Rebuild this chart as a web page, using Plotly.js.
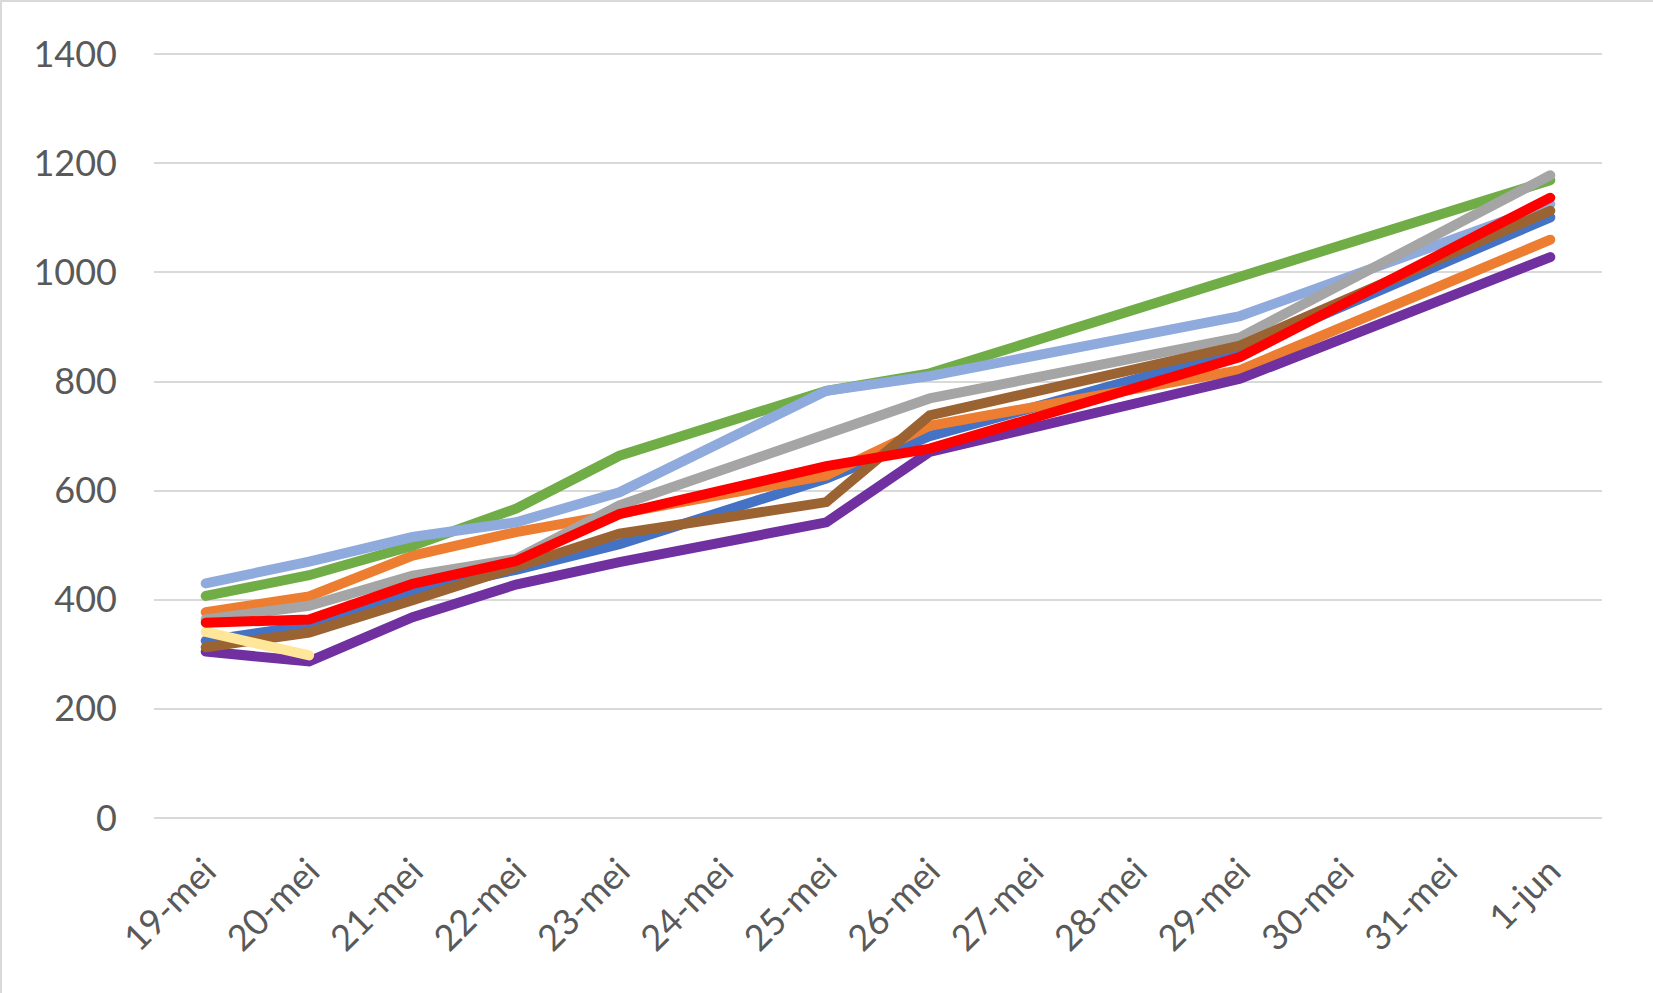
<!DOCTYPE html>
<html>
<head>
<meta charset="utf-8">
<script src="https://cdn.plot.ly/plotly-3.0.1.min.js"></script>
<style>
  html, body { margin: 0; padding: 0; background: #fff; }
  #chart { width: 1653px; height: 993px; box-sizing: border-box; border: 2px solid #d9d9d9; }
  #chart .js-line { stroke-linecap: round; }
</style>
</head>
<body>
<div id="chart"></div>
<script>
// datums op de x-as (ontbrekende dagen worden met een rechte lijn overbrugd)
const dagen = ['19-mei', '20-mei', '21-mei', '22-mei', '23-mei', '24-mei', '25-mei',
               '26-mei', '27-mei', '28-mei', '29-mei', '30-mei', '31-mei', '1-jun'];

const blauw      = [325, 353, 414, 455, 502, null, 622, 700, null, null, 857, null, null, 1101];
const oranje     = [377, 406, 481, 524, 558, null, 628, 719, null, null, 821, null, null, 1060];
const groen      = [407, 445, 499, 567, 664, null, 783, 815, null, null, 991, null, null, 1169];
const lichtblauw = [430, 470, 515, 542, 597, null, 783, 810, null, null, 920, null, null, 1125];
const grijs      = [364, 389, 444, 475, 573, null, 701, 769, null, null, 881, null, null, 1178];
const paars      = [305, 287, 368, 428, 469, null, 542, 671, null, null, 805, null, null, 1028];
const bruin      = [313, 340, 399, 458, 521, null, 579, 738, null, null, 866, null, null, 1113];
const geel       = [341, 298, null, null, null, null, null, null, null, null, null, null, null, null];
const rood       = [358, 364, 429, 471, 557, null, 645, 677, null, null, 845, null, null, 1137];

const yTicks = [0, 200, 400, 600, 800, 1000, 1200, 1400];

function lijn(y, kleur) {
  return {
    x: dagen,
    y: y,
    type: 'scatter',
    mode: 'lines',
    connectgaps: true,
    line: { color: kleur, width: 10 },
    hoverinfo: 'skip'
  };
}

// volgorde bepaalt welke lijn bovenop ligt (rood bovenaan)
const plotData = [
  lijn(blauw, '#4472C4'),
  lijn(oranje, '#ED7D31'),
  lijn(groen, '#70AD47'),
  lijn(lichtblauw, '#8FAADC'),
  lijn(grijs, '#A5A5A5'),
  lijn(paars, '#7030A0'),
  lijn(bruin, '#9C6332'),
  lijn(geel, '#FFE699'),
  lijn(rood, '#FF0000')
];

const layout = {
  width: 1653,
  height: 993,
  margin: { t: 50, l: 152, r: 53, b: 177 },
  paper_bgcolor: '#ffffff',
  plot_bgcolor: '#ffffff',
  showlegend: false,
  font: { family: 'Lato, "Open Sans", sans-serif', size: 36, color: '#595959' },
  xaxis: {
    type: 'category',
    range: [-0.5, 13.5],
    tickangle: -45,
    showgrid: false,
    showline: false,
    ticks: '',
    ticklabelstandoff: 24,
    tickfont: { size: 36, color: '#595959' },
    fixedrange: true
  },
  yaxis: {
    // iets boven 1400 zodat de bovenste rasterlijn getekend wordt
    range: [0, 1404],
    tickmode: 'array',
    tickvals: yTicks,
    ticktext: yTicks.map(String),
    showgrid: true,
    gridcolor: '#d9d9d9',
    gridwidth: 2,
    zeroline: true,
    zerolinecolor: '#d9d9d9',
    zerolinewidth: 2,
    showline: false,
    ticks: '',
    ticklabelstandoff: 36,
    tickfont: { size: 36, color: '#595959' },
    fixedrange: true
  }
};

Plotly.newPlot('chart', plotData, layout, { displayModeBar: false, staticPlot: true });
</script>
</body>
</html>
